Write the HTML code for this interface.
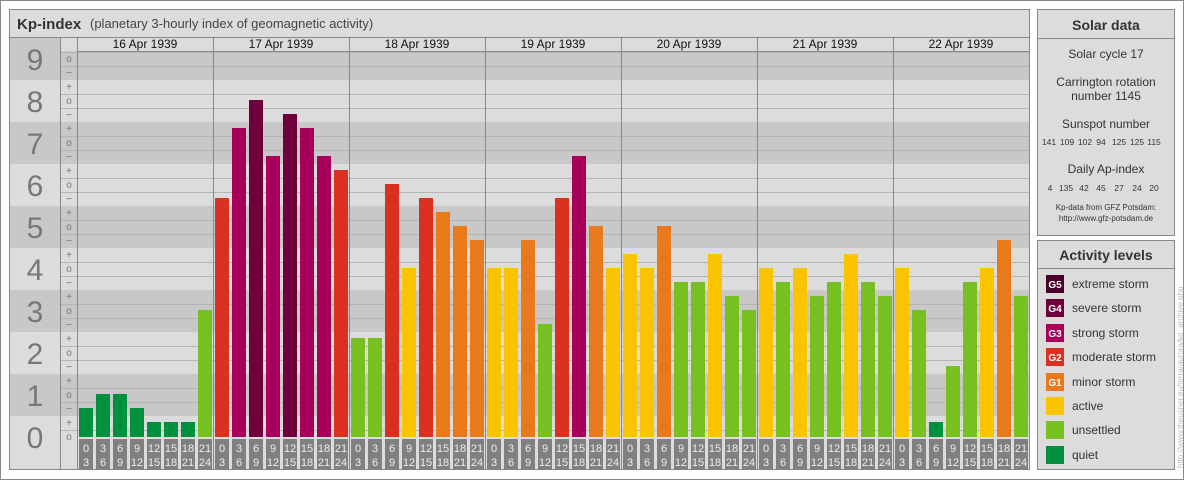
<!DOCTYPE html>
<html><head><meta charset="utf-8"><style>
body{margin:0;background:#fff}
svg{display:block;font-family:"Liberation Sans",sans-serif}
</style></head><body>
<svg width="1184" height="480" xmlns="http://www.w3.org/2000/svg">
<rect x="0.5" y="0.5" width="1183" height="479" fill="#fff" stroke="#888"/>
<rect x="9.5" y="9.5" width="1020" height="460" fill="#dcdcdc" stroke="#888"/>
<line x1="9" y1="37.5" x2="1030" y2="37.5" stroke="#888"/>
<text x="17" y="29" font-size="15" font-weight="bold" fill="#333">Kp-index</text>
<text x="90" y="28" font-size="13" fill="#444">(planetary 3-hourly index of geomagnetic activity)</text>
<g id="bands"></g>
<g id="grid"></g>
<line x1="60.5" y1="37" x2="60.5" y2="470" stroke="#888"/>
<line x1="77.5" y1="37" x2="77.5" y2="470" stroke="#888"/>
<line x1="77" y1="51.5" x2="1030" y2="51.5" stroke="#888"/>
<g id="days"></g>
<g id="bars"></g>
<g font-size="30" fill="#777" text-anchor="middle">
<text x="35" y="70">9</text><text x="35" y="112">8</text><text x="35" y="154">7</text><text x="35" y="196">6</text><text x="35" y="238">5</text><text x="35" y="280">4</text><text x="35" y="322">3</text><text x="35" y="364">2</text><text x="35" y="406">1</text><text x="35" y="448">0</text>
</g>
<g font-size="10" fill="#777" text-anchor="middle">
<text x="69" y="62">o</text><text x="69" y="76">−</text>
<text x="69" y="90">+</text><text x="69" y="104">o</text><text x="69" y="118">−</text>
<text x="69" y="132">+</text><text x="69" y="146">o</text><text x="69" y="160">−</text>
<text x="69" y="174">+</text><text x="69" y="188">o</text><text x="69" y="202">−</text>
<text x="69" y="216">+</text><text x="69" y="230">o</text><text x="69" y="244">−</text>
<text x="69" y="258">+</text><text x="69" y="272">o</text><text x="69" y="286">−</text>
<text x="69" y="300">+</text><text x="69" y="314">o</text><text x="69" y="328">−</text>
<text x="69" y="342">+</text><text x="69" y="356">o</text><text x="69" y="370">−</text>
<text x="69" y="384">+</text><text x="69" y="398">o</text><text x="69" y="412">−</text>
<text x="69" y="426">+</text><text x="69" y="440">o</text>
</g>
<g font-size="12" fill="#111" text-anchor="middle">
<text x="145" y="48">16 Apr 1939</text><text x="281" y="48">17 Apr 1939</text><text x="417" y="48">18 Apr 1939</text><text x="553" y="48">19 Apr 1939</text><text x="689" y="48">20 Apr 1939</text><text x="825" y="48">21 Apr 1939</text><text x="961" y="48">22 Apr 1939</text>
</g>
<g id="lbl" font-size="11" fill="#eee" text-anchor="middle"></g>

<rect x="1037.5" y="9.5" width="137" height="226" fill="#dcdcdc" stroke="#888"/>
<line x1="1037" y1="38.5" x2="1175" y2="38.5" stroke="#888"/>
<g text-anchor="middle" fill="#333">
<text x="1106" y="30" font-size="14" font-weight="bold">Solar data</text>
<text x="1106" y="58" font-size="12">Solar cycle 17</text>
<text x="1106" y="86" font-size="12">Carrington rotation</text>
<text x="1106" y="100" font-size="12">number 1145</text>
<text x="1106" y="128" font-size="12">Sunspot number</text>
<g font-size="8.5">
<text x="1049" y="145">141</text><text x="1067" y="145">109</text><text x="1085" y="145">102</text><text x="1101" y="145">94</text><text x="1119" y="145">125</text><text x="1137" y="145">125</text><text x="1154" y="145">115</text>
<text x="1050" y="191">4</text><text x="1066" y="191">135</text><text x="1084" y="191">42</text><text x="1101" y="191">45</text><text x="1119" y="191">27</text><text x="1137" y="191">24</text><text x="1154" y="191">20</text>
</g>
<text x="1106" y="173" font-size="12">Daily Ap-index</text>
<text x="1106" y="210" font-size="8">Kp-data from GFZ Potsdam:</text>
<text x="1106" y="221" font-size="8">http://www.gfz-potsdam.de</text>
</g>
<rect x="1037.5" y="240.5" width="137" height="229" fill="#dcdcdc" stroke="#888"/>
<line x1="1037" y1="268.5" x2="1175" y2="268.5" stroke="#888"/>
<text x="1106" y="260" font-size="14" font-weight="bold" text-anchor="middle" fill="#333">Activity levels</text>
<g font-size="12" fill="#333">
<rect x="1046" y="275" width="18" height="18" fill="#4a0028"/><text x="1072" y="288">extreme storm</text>
<rect x="1046" y="299" width="18" height="18" fill="#70003c"/><text x="1072" y="312">severe storm</text>
<rect x="1046" y="324" width="18" height="18" fill="#a8005a"/><text x="1072" y="337">strong storm</text>
<rect x="1046" y="348" width="18" height="18" fill="#d93020"/><text x="1072" y="361">moderate storm</text>
<rect x="1046" y="373" width="18" height="18" fill="#e87a1c"/><text x="1072" y="386">minor storm</text>
<rect x="1046" y="397" width="18" height="18" fill="#fac400"/><text x="1072" y="410">active</text>
<rect x="1046" y="421" width="18" height="18" fill="#76c120"/><text x="1072" y="434">unsettled</text>
<rect x="1046" y="446" width="18" height="18" fill="#009040"/><text x="1072" y="459">quiet</text>
</g>
<g font-size="10" font-weight="bold" fill="#fff" text-anchor="middle">
<text x="1055" y="288">G5</text><text x="1055" y="312">G4</text><text x="1055" y="337">G3</text><text x="1055" y="361">G2</text><text x="1055" y="386">G1</text>
</g>
<text transform="translate(1183,468) rotate(-90)" font-size="8" fill="#bbb">http://www.theusner.eu/terra/aurora/kp_archive.php</text>
</svg>
<script>
const NS="http://www.w3.org/2000/svg";
function el(p,t,a){const e=document.createElementNS(NS,t);for(const k in a)e.setAttribute(k,a[k]);document.getElementById(p).appendChild(e);return e;}
for(let k=0;k<=9;k++){const c=k%2?"#c8c8c8":"#dcdcdc";
 let y1=416-42*k,y2=458-42*k; let a=Math.max(y1,37),b=Math.min(y2,k==0?470:437);
 el("bands","rect",{x:10,y:a,width:50,height:b-a,fill:c});
 let a2=Math.max(y1,51),b2=Math.min(y2,437);
 el("bands","rect",{x:61,y:a2,width:968,height:b2-a2,fill:c});
 for(const d of [-7,7]){const y=437-42*k+d; if(y>51&&y<437) el("grid","line",{x1:61,x2:1029,y1:y+0.5,y2:y+0.5,stroke:"#b4b4b4"});}
}
for(let d=1;d<7;d++){const x=77+136*d+0.5;el("days","line",{x1:x,x2:x,y1:37,y2:470,stroke:"#888"});}
const tops=[408,394,394,408,422,422,422,310, 198,128,100,156,114,128,156,170, 338,338,184,268,198,212,226,240, 268,268,240,324,198,156,226,268, 254,268,226,282,282,254,296,310, 268,282,268,296,282,254,282,296, 268,310,422,366,282,268,240,296];
function col(t){const k=(437-t)/42;
 if(k<1.5)return"#009040";if(k<3.9)return"#76c120";if(k<4.5)return"#fac400";if(k<5.5)return"#e87a1c";if(k<6.5)return"#d93020";if(k<7.6)return"#a8005a";if(k<8.9)return"#70003c";return"#4a0028";}
const h=[[0,3],[3,6],[6,9],[9,12],[12,15],[15,18],[18,21],[21,24]];
tops.forEach((t,i)=>{const x=79+17*i;
 el("bars","rect",{x:x,y:t,width:14,height:437-t,fill:col(t)});
 el("bars","rect",{x:x,y:439,width:14,height:31,fill:"#808080"});
 const a=el("lbl","text",{x:x+7,y:452});a.textContent=h[i%8][0];
 const b=el("lbl","text",{x:x+7,y:466});b.textContent=h[i%8][1];
});
</script>
</body></html>
